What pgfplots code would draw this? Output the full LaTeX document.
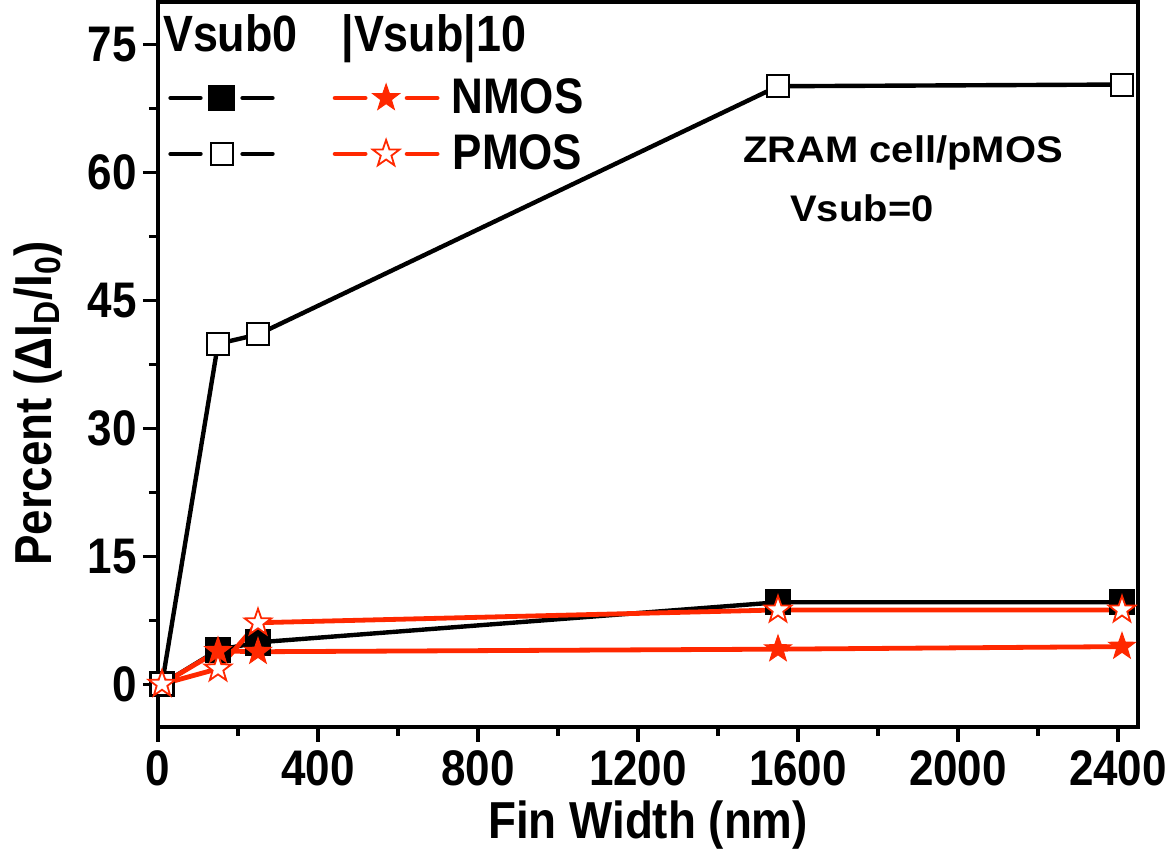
\documentclass[border=0pt]{standalone}
\usepackage{fontspec}
\setmainfont{Liberation Sans}[FakeStretch=0.88]
\newfontfamily\notefont{Liberation Sans}[FakeStretch=1.08]
\usepackage{pgfplots}
\pgfplotsset{compat=1.18}
\definecolor{zred}{RGB}{255,40,0}
% five-point star mark
\pgfdeclareplotmark{star5}{%
  \pgfpathmoveto{\pgfpointpolar{90}{\pgfplotmarksize}}%
  \pgfpathlineto{\pgfpointpolar{126}{0.40\pgfplotmarksize}}%
  \pgfpathlineto{\pgfpointpolar{162}{\pgfplotmarksize}}%
  \pgfpathlineto{\pgfpointpolar{198}{0.40\pgfplotmarksize}}%
  \pgfpathlineto{\pgfpointpolar{234}{\pgfplotmarksize}}%
  \pgfpathlineto{\pgfpointpolar{270}{0.40\pgfplotmarksize}}%
  \pgfpathlineto{\pgfpointpolar{306}{\pgfplotmarksize}}%
  \pgfpathlineto{\pgfpointpolar{342}{0.40\pgfplotmarksize}}%
  \pgfpathlineto{\pgfpointpolar{18}{\pgfplotmarksize}}%
  \pgfpathlineto{\pgfpointpolar{54}{0.40\pgfplotmarksize}}%
  \pgfpathclose
  \pgfusepathqfillstroke}
\begin{document}
\begin{tikzpicture}
\begin{axis}[
  scale only axis, width=490pt, height=362.5pt,
  xmin=0, xmax=2450, ymin=-5, ymax=80,
  xtick={0,400,...,2400}, ytick={0,15,...,75},
  minor x tick num=1, minor y tick num=1,
  tick pos=left, tick align=outside,
  major tick length=7.5pt, minor tick length=4.5pt,
  every tick/.style={black, line width=1.6pt},
  axis line style={line width=1.8pt},
  clip=false,
  /pgf/number format/assume math mode=true,
  /pgf/number format/1000 sep={},
  tick label style={font=\fontsize{25}{27}\selectfont\bfseries},
  xticklabel style={inner sep=0pt, inner ysep=4pt},
  yticklabel style={inner sep=0pt, inner xsep=3pt},
  label style={font=\fontsize{26}{28}\selectfont\bfseries},
  xlabel={Fin Width (nm)},
  ylabel={Percent (ΔI\textsubscript{D}/I\textsubscript{0})},
  ylabel shift=6pt,
  ylabel style={at={(ticklabel cs:0.446)}},
  legend columns=2,
  legend style={draw=none, fill=none, at={(axis description cs:0.004,0.905)}, anchor=north west,
    font=\fontsize{25}{26}\selectfont\bfseries, row sep=5pt,
    /tikz/every odd column/.append style={column sep=4pt},
    /tikz/every even column/.append style={column sep=21pt}},
  legend image code/.code={%
    \draw[#1, mark=none, line cap=round] (0pt,0pt) -- (15pt,0pt);
    \draw[#1, mark=none, line cap=round] (36pt,0pt) -- (51pt,0pt);
    \draw[#1, only marks] plot coordinates {(25.5pt,0pt)};},
]
% NMOS, Vsub = 0
\addplot[black, line width=2.2pt, mark=square*, mark size=5.5pt, mark options={fill=black, solid}]
  coordinates {(10,0) (150,4.0) (250,4.9) (1550,9.6) (2410,9.6)};
\addlegendentry{}
% NMOS, |Vsub| = 10
\addplot[zred, line width=2.4pt, mark=star5, mark size=7pt, mark options={fill=zred, line width=0.5pt}]
  coordinates {(10,0) (150,3.9) (250,3.8) (1550,4.1) (2410,4.4)};
\addlegendentry{NMOS}
% PMOS, Vsub = 0
\addplot[black, line width=2.2pt, mark=square*, mark size=5.5pt, mark options={fill=white, line width=1pt}]
  coordinates {(10,0) (150,39.9) (250,41.0) (1550,70.1) (2410,70.3)};
\addlegendentry{}
% PMOS, |Vsub| = 10
\addplot[zred, line width=2.4pt, mark=star5, mark size=7pt, mark options={fill=white, line width=0.9pt}]
  coordinates {(10,0) (150,1.8) (250,7.2) (1550,8.7) (2410,8.7)};
\addlegendentry{PMOS}
\node[anchor=base west, font=\fontsize{25.5}{27}\selectfont\bfseries] at (axis description cs:-0.002,0.931) {Vsub0};
\node[anchor=base west, font=\fontsize{25.5}{27}\selectfont\bfseries] at (axis description cs:0.180,0.931) {|Vsub|10};
\node[anchor=base west, font=\notefont\fontsize{18.5}{21}\selectfont\bfseries] at (axis description cs:0.590,0.779) {ZRAM cell/pMOS};
\node[anchor=base west, font=\notefont\fontsize{18.5}{21}\selectfont\bfseries] at (axis description cs:0.638,0.697) {Vsub=0};
% page margins as in the original figure
\path (rel axis cs:0,1) ++(-79pt,0pt) (rel axis cs:1,1) ++(18pt,0pt);
\end{axis}
\end{tikzpicture}
\end{document}
